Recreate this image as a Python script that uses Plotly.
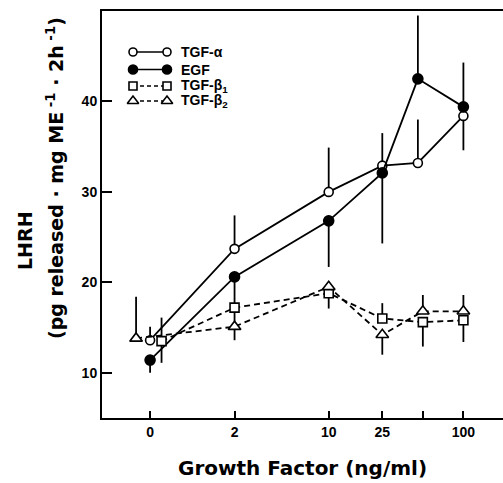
import math
import plotly.graph_objects as go

# ---- data ----
doses = [0, 2, 10, 25, 50, 100]
tick_labels = ["0", "2", "10", "25", "", "100"]

tgfa = [13.6, 23.7, 30.0, 32.9, 33.2, 38.4]
tgfa_plus = [1.5, 3.7, 4.9, 3.6, 4.8, 0]
tgfa_minus = [0, 0, 0, 0, 0, 3.8]

egf = [11.4, 20.6, 26.8, 32.1, 42.5, 39.4]
egf_plus = [0, 0, 0, 0, 7.0, 4.9]
egf_minus = [1.4, 3.2, 5.1, 7.8, 0, 0]

tgfb1 = [13.5, 17.2, 18.8, 16.0, 15.6, 15.8]
tgfb1_plus = [2.6, 0, 0, 1.7, 0, 0]
tgfb1_minus = [2.4, 1.5, 1.7, 0, 2.7, 2.4]

tgfb2 = [13.8, 15.1, 19.5, 14.2, 16.8, 16.8]
tgfb2_plus = [4.6, 0, 0, 0, 1.8, 1.8]
tgfb2_minus = [0, 1.5, 0, 2.2, 0, 0]

# ---- axis mapping (log-spaced categories, control placed left of 2) ----
CONTROL_POS = -0.326


def pos(d):
    return math.log10(d) if d > 0 else CONTROL_POS


# small horizontal nudges (axis units) so overlapping points stay visible
nudges = {
    "TGF-α": {50: -0.037},
    "EGF": {50: -0.037},
    "TGF-β1": {0: 0.085},
    "TGF-β2": {0: -0.104},
}

FONT = "Liberation Sans, Arial, sans-serif"
TITLE_FONT = "DejaVu Sans, sans-serif"

series = [
    ("TGF-α", tgfa, tgfa_plus, tgfa_minus, "circle-open", "white", "solid", 9),
    ("EGF", egf, egf_plus, egf_minus, "circle", "black", "solid", 10),
    ("TGF-β1", tgfb1, tgfb1_plus, tgfb1_minus, "square", "white", "dash", 9),
    ("TGF-β2", tgfb2, tgfb2_plus, tgfb2_minus, "triangle-up", "white", "dash", 11),
]

fig = go.Figure()
for name, ys, ep, em, sym, fill, dash, size in series:
    xs = [pos(d) + nudges.get(name, {}).get(d, 0) for d in doses]
    fig.add_trace(go.Scatter(
        x=xs, y=ys, mode="lines+markers", name=name, showlegend=False,
        line=dict(color="black", width=1.8, dash="6px,4px" if dash == "dash" else "solid"),
        marker=dict(symbol=sym.replace("-open", ""), size=size, color=fill,
                    line=dict(color="black", width=1.6)),
        error_y=dict(type="data", symmetric=False, array=ep, arrayminus=em,
                     color="black", thickness=1.8, width=0),
    ))

# ---- manual legend (marker-line-marker samples) on an overlay pixel axis ----
legend_rows = [
    ("TGF-α", "TGF-α"),
    ("EGF", "EGF"),
    ("TGF-β1", "TGF-β<sub>1</sub>"),
    ("TGF-β2", "TGF-β<sub>2</sub>"),
]
row_y = [41, 58.5, 75, 90]
style = {s[0]: s for s in series}
for (key, label), ry in zip(legend_rows, row_y):
    _, _, _, _, sym, fill, dash, size = style[key]
    fig.add_trace(go.Scatter(
        x=[31, 65], y=[ry, ry], xaxis="x2", yaxis="y2", mode="lines+markers",
        showlegend=False, hoverinfo="skip",
        line=dict(color="black", width=1.6, dash="4px,3px" if dash == "dash" else "solid"),
        marker=dict(symbol=sym.replace("-open", ""), size=size - 1, color=fill,
                    line=dict(color="black", width=1.6)),
    ))
    fig.add_annotation(x=77, y=ry, xref="x2", yref="y2", text="<b>%s</b>" % label,
                       showarrow=False, xanchor="left", yanchor="middle",
                       font=dict(family=FONT, size=14, color="black"))

# ---- y-axis title (two lines) ----
fig.add_annotation(x=25, y=241, xref="paper", yref="paper", text="<b>LHRH</b>",
                   showarrow=False, textangle=-90, font=dict(family=TITLE_FONT, size=19, color="black"))
fig.add_annotation(x=55, y=178, xref="paper", yref="paper",
                   text="<b>(pg released · mg ME<sup> -1</sup> · 2h<sup> -1</sup>)</b>",
                   showarrow=False, textangle=-90, font=dict(family=TITLE_FONT, size=19, color="black"))

W, H = 503, 483
L, R, T, B = 102, 0, 11, 65
pw, ph = W - L - R, H - T - B

# convert the pixel-placed title annotations to paper coords
for a in fig.layout.annotations:
    if a.xref == "paper":
        a.x = (a.x - L) / pw
        a.y = 1 - (a.y - T) / ph
        a.xanchor = "center"
        a.yanchor = "middle"

fig.update_layout(
    width=W, height=H,
    margin=dict(l=L, r=R, t=T, b=B),
    plot_bgcolor="white", paper_bgcolor="white",
    font=dict(family=FONT, color="black"),
    xaxis=dict(
        range=[-0.683, 2.294], tickmode="array",
        tickvals=[pos(d) for d in doses], ticktext=["<b>%s</b>" % t for t in tick_labels],
        ticks="inside", ticklen=7, tickwidth=1.6, tickcolor="black",
        showline=True, linecolor="black", linewidth=2, mirror=True,
        showgrid=False, zeroline=False, tickfont=dict(size=14, family=FONT),
        title=dict(text="<b>Growth Factor (ng/ml)</b>", standoff=22,
                   font=dict(family=TITLE_FONT, size=20)),
    ),
    yaxis=dict(
        range=[5, 50], tickmode="array", tickvals=[10, 20, 30, 40],
        ticktext=["<b>10</b>", "<b>20</b>", "<b>30</b>", "<b>40</b>"],
        ticks="inside", ticklen=10, tickwidth=1.6, tickcolor="black",
        showline=True, linecolor="black", linewidth=2, mirror=False,
        showgrid=False, zeroline=False, tickfont=dict(size=14, family=FONT),
    ),
    xaxis2=dict(overlaying="x", range=[0, pw], visible=False, fixedrange=True),
    yaxis2=dict(overlaying="y", range=[ph, 0], visible=False, fixedrange=True),
)

fig.write_html("out.html", config={"displayModeBar": False},
               post_script="document.body.style.margin='0';document.body.style.overflow='hidden';")
